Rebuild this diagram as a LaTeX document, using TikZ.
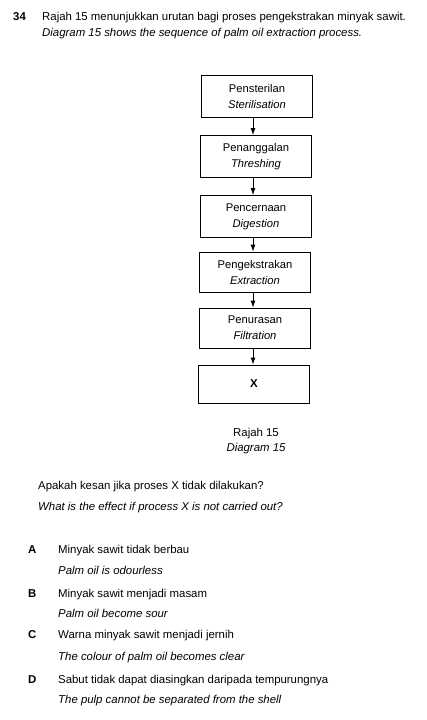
\documentclass[tikz,border=0pt]{standalone}
\usepackage{fontspec}
\setmainfont{Liberation Sans}
\usetikzlibrary{arrows.meta}
\newcommand{\fs}{\fontsize{11.4}{13}\selectfont}
\tikzset{
  txt/.style={anchor=base west, inner sep=0pt, font=\fs},
  stepbox/.style={draw, line width=0.9pt, minimum width=111pt, minimum height=42pt, align=center, inner sep=2pt, font=\fontsize{11.2}{16}\selectfont},
  flow/.style={line width=0.9pt, -{Latex[length=7pt,width=5pt]}}
}
\begin{document}
\begin{tikzpicture}[x=1pt,y=-1pt]
\useasboundingbox (0,0) rectangle (426,720);
\node[txt, font=\fs\bfseries] (num) at (13,20) {34};
\node[txt] (h1) at (42,20) {Rajah 15 menunjukkan urutan bagi proses pengekstrakan minyak sawit.};
\node[txt] (h2) at (42,36) {\itshape Diagram 15 shows the sequence of palm oil extraction process.};

\node[stepbox] (b1) at (257,96) {Pensterilan\\\itshape Sterilisation};
\node[stepbox] (b2) at (256,156.5) {Penanggalan\\\itshape Threshing};
\node[stepbox] (b3) at (256,216.5) {Pencernaan\\\itshape Digestion};
\node[stepbox, minimum height=40pt] (b4) at (255,272) {Pengekstrakan\\\itshape Extraction};
\node[stepbox, minimum height=40pt] (b5) at (255,328) {Penurasan\\\itshape Filtration};
\node[stepbox, minimum height=38pt, font=\fontsize{11.5}{16}\selectfont\bfseries] (b6) at (254,384) {X};
\coordinate (ax) at (253,0);

\draw[flow] (b1.south -| ax) -- (b2.north -| ax);
\draw[flow] (b2.south -| ax) -- (b3.north -| ax);
\draw[flow] (b3.south -| ax) -- (b4.north -| ax);
\draw[flow] (b4.south -| ax) -- (b5.north -| ax);
\draw[flow] (b5.south -| ax) -- (b6.north -| ax);

\node[anchor=base, inner sep=0pt, font=\fs] (cap1) at (256,436) {Rajah 15};
\node[anchor=base, inner sep=0pt, font=\fs\itshape] (cap2) at (256,451) {Diagram 15};

\node[txt] (q1) at (38,489) {Apakah kesan jika proses X tidak dilakukan?};
\node[txt] (q2) at (38,510) {\itshape What is the effect if process X is not carried out?};

\node[txt, font=\fs\bfseries] (la) at (28,553) {A};
\node[txt] (a1) at (58,553) {Minyak sawit tidak berbau};
\node[txt] (a2) at (58,574) {\itshape Palm oil is odourless};
\node[txt, font=\fs\bfseries] (lb) at (28,597) {B};
\node[txt] (b1t) at (58,597) {Minyak sawit menjadi masam};
\node[txt] (b2t) at (58,617) {\itshape Palm oil become sour};
\node[txt, font=\fs\bfseries] (lc) at (28,638) {C};
\node[txt] (c1) at (58,638) {Warna minyak sawit menjadi jernih};
\node[txt] (c2) at (58,660) {\itshape The colour of palm oil becomes clear};
\node[txt, font=\fs\bfseries] (ld) at (28,683) {D};
\node[txt] (d1) at (58,683) {Sabut tidak dapat diasingkan daripada tempurungnya};
\node[txt] (d2) at (58,703) {\itshape The pulp cannot be separated from the shell};
\end{tikzpicture}
\end{document}
